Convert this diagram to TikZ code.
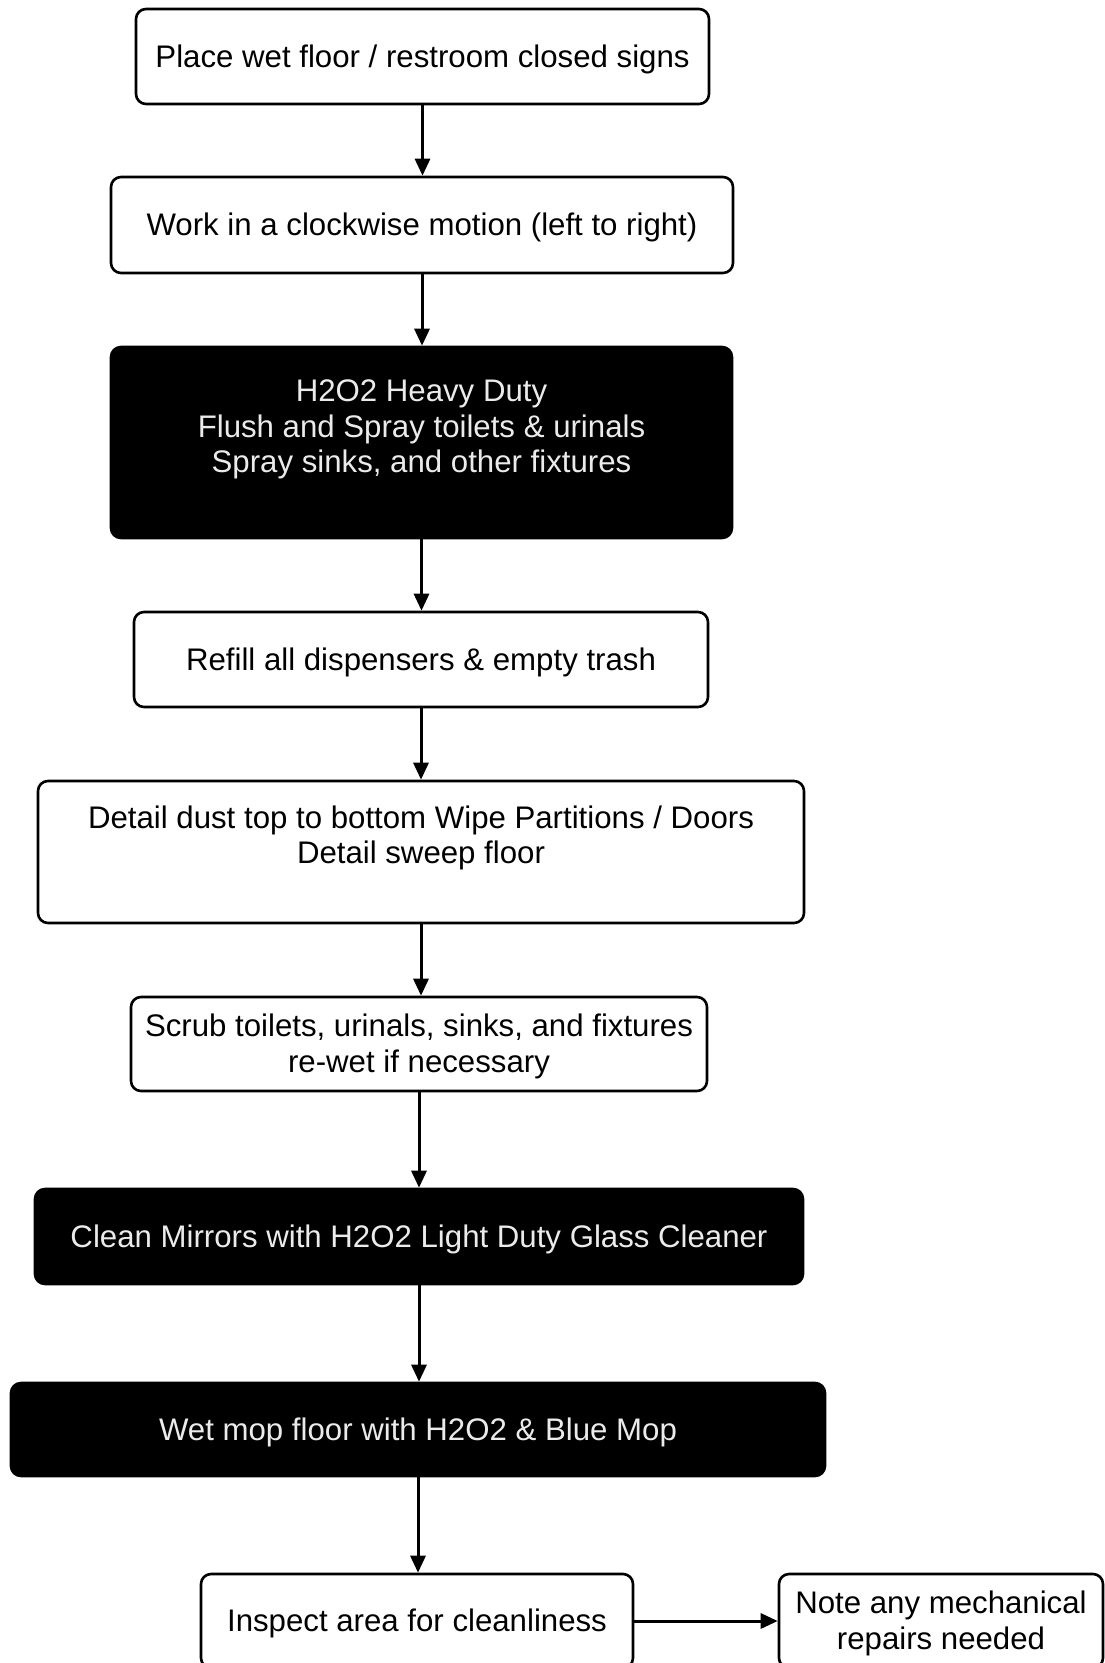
\documentclass[tikz,border=0pt]{standalone}
\usepackage{fontspec}
\setmainfont{Liberation Sans}
\usetikzlibrary{arrows.meta}
\newcommand{\lowtext}[1]{\raisebox{-3.5pt}[\height][\depth]{\begin{tabular}{@{}c@{}}#1\end{tabular}}}
\tikzset{
  stepbox/.style={draw=black, line width=2.6pt, rounded corners=10pt, fill=white,
    inner sep=0pt, align=center, font=\fontsize{31.2pt}{35.5pt}\selectfont},
  darkbox/.style={stepbox, fill=black, text=white!92!black},
  arr/.style={line width=3pt, -{Triangle[length=17pt,width=15pt]}}
}
\begin{document}
\begin{tikzpicture}[x=1pt,y=-1pt]
\useasboundingbox (0,0) rectangle (1105,1663);
\fill[white] (0,0) rectangle (1105,1663);
\node[stepbox, minimum width=573pt, minimum height=95pt] (b1) at (422.5,56.5) {\lowtext{Place wet floor / restroom closed signs}};
\node[stepbox, minimum width=622pt, minimum height=96pt] (b2) at (422,225) {\lowtext{Work in a clockwise motion (left to right)}};
\node[darkbox, minimum width=621pt, minimum height=191pt] (b3) at (421.5,442.5)
  {\parbox[c][191pt][t]{621pt}{\centering\vspace*{33pt}H2O2 Heavy Duty\\Flush and Spray toilets \& urinals\\Spray sinks, and other fixtures}};
\node[stepbox, minimum width=574pt, minimum height=95pt] (b4) at (421,659.5) {\lowtext{Refill all dispensers \& empty trash}};
\node[stepbox, minimum width=766pt, minimum height=142pt] (b5) at (421,852)
  {\parbox[c][142pt][t]{766pt}{\centering\vspace*{24.5pt}Detail dust top to bottom Wipe Partitions / Doors\\Detail sweep floor}};
\node[stepbox, minimum width=576pt, minimum height=94pt] (b6) at (419,1044) {\lowtext{Scrub toilets, urinals, sinks, and fixtures\\re-wet if necessary}};
\node[darkbox, minimum width=768pt, minimum height=95pt] (b7) at (419,1236.5) {\lowtext{Clean Mirrors with H2O2 Light Duty Glass Cleaner}};
\node[darkbox, minimum width=814pt, minimum height=93pt] (b8) at (418,1429.5) {\lowtext{Wet mop floor with H2O2 \& Blue Mop}};
\node[stepbox, minimum width=432pt, minimum height=94pt] (b9) at (417,1621) {\lowtext{Inspect area for cleanliness}};
\node[stepbox, minimum width=324pt, minimum height=94pt] (b10) at (941,1621) {\lowtext{Note any mechanical\\repairs needed}};
\draw[arr] (b1.south) -- (b1.south |- b2.north);
\draw[arr] (b2.south) -- (b2.south |- b3.north);
\draw[arr] (b3.south) -- (b3.south |- b4.north);
\draw[arr] (b4.south) -- (b4.south |- b5.north);
\draw[arr] (b5.south) -- (b5.south |- b6.north);
\draw[arr] (b6.south) -- (b6.south |- b7.north);
\draw[arr] (b7.south) -- (b7.south |- b8.north);
\draw[arr] (b8.south) -- (b8.south |- b9.north);
\draw[arr] (b9.east) -- (b10.west);
\end{tikzpicture}
\end{document}
